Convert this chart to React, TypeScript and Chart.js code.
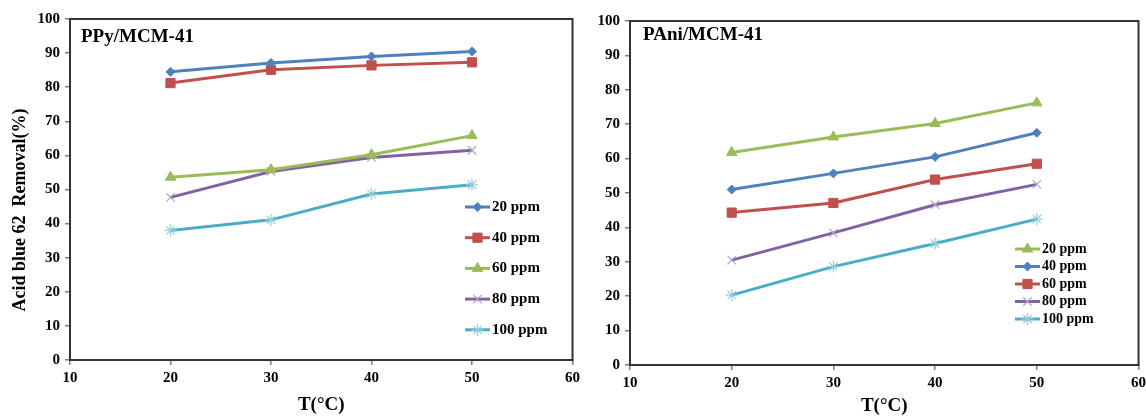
import React, { useEffect, useRef } from 'react';
import { Chart, registerables } from 'chart.js';
import { drawPoint } from 'chart.js/helpers';

Chart.register(...registerables);

// ---------- data ----------
const temperatures = [20, 30, 40, 50];
const xTickValues = [10, 20, 30, 40, 50, 60];
const yTickValues = [0, 10, 20, 30, 40, 50, 60, 70, 80, 90, 100];

const ppyLabels = ['20 ppm', '40 ppm', '60 ppm', '80 ppm', '100 ppm'];
const ppy20 = [84.5, 87.1, 89.0, 90.5];
const ppy40 = [81.2, 85.1, 86.4, 87.3];
const ppy60 = [53.6, 55.8, 60.2, 65.8];
const ppy80 = [47.7, 55.3, 59.4, 61.5];
const ppy100 = [38.0, 41.1, 48.7, 51.4];

const paniLabels = ['20 ppm', '40 ppm', '60 ppm', '80 ppm', '100 ppm'];
const pani20 = [61.8, 66.3, 70.2, 76.2];
const pani40 = [51.0, 55.7, 60.5, 67.5];
const pani60 = [44.3, 47.1, 53.9, 58.5];
const pani80 = [30.5, 38.4, 46.6, 52.5];
const pani100 = [20.3, 28.6, 35.3, 42.4];

// ---------- styles ----------
const FONT = "'Liberation Serif', 'Times New Roman', serif";

const sBlue = { color: '#4F81BD', pointStyle: 'rectRot', radius: 4.5, pbw: 1, fill: '#4F81BD', pointBorder: '#4F81BD' };
const sRed = { color: '#C0504D', pointStyle: 'rect', radius: 6.5, pbw: 1, fill: '#C0504D', pointBorder: '#C0504D' };
const sGreen = { color: '#9BBB59', pointStyle: 'triangle', radius: 6, pbw: 1, fill: '#9BBB59', pointBorder: '#9BBB59' };
const sPurple = { color: '#8064A2', pointStyle: 'crossRot', radius: 6, pbw: 1.2, fill: '#8064A2', pointBorder: '#B3A2C7' };
const sCyan = { color: '#4BACC6', pointStyle: 'star', radius: 6, pbw: 1.2, fill: '#4BACC6', pointBorder: '#93CDDD' };

function makeDataset(label: string, values: number[], st: any) {
  return {
    label,
    data: temperatures.map((t, i) => ({ x: t, y: values[i] })),
    borderColor: st.color,
    backgroundColor: st.fill,
    borderWidth: 3,
    pointStyle: st.pointStyle,
    pointRadius: st.radius,
    pointBackgroundColor: st.fill,
    pointBorderColor: st.pointBorder,
    pointBorderWidth: st.pbw,
    tension: 0,
    fill: false,
  };
}

function makePlugin(opts: any) {
  return {
    id: 'decor',
    afterDraw(chart: any) {
      const ctx = chart.ctx;
      const a = chart.chartArea;
      ctx.save();
      // frame
      ctx.strokeStyle = '#333333';
      ctx.lineWidth = 2;
      ctx.strokeRect(a.left, a.top, a.right - a.left, a.bottom - a.top);
      // inside title
      ctx.fillStyle = '#000';
      ctx.font = `bold 19px ${FONT}`;
      ctx.textAlign = 'left';
      ctx.textBaseline = 'middle';
      ctx.fillText(opts.title, opts.titleX, opts.titleY);
      // x title
      ctx.font = `bold 19px ${FONT}`;
      ctx.textAlign = 'center';
      ctx.fillText('T(°C)', (a.left + a.right) / 2, opts.xTitleY);
      // y title
      if (opts.yTitle) {
        ctx.save();
        ctx.translate(opts.yTitleX, opts.yTitleY);
        ctx.rotate(-Math.PI / 2);
        ctx.font = `bold 18px ${FONT}`;
        ctx.textAlign = 'center';
        ctx.fillText(opts.yTitle, 0, 0);
        ctx.restore();
      }
      // legend
      chart.data.datasets.forEach((ds: any, i: number) => {
        const y = opts.legY + i * opts.legStep;
        const x0 = opts.legX;
        const x1 = opts.legX + opts.legLen;
        ctx.strokeStyle = ds.borderColor;
        ctx.lineWidth = 3;
        ctx.beginPath();
        ctx.moveTo(x0, y);
        ctx.lineTo(x1, y);
        ctx.stroke();
        ctx.fillStyle = ds.pointBackgroundColor;
        ctx.strokeStyle = ds.pointBorderColor;
        ctx.lineWidth = ds.pointBorderWidth;
        drawPoint(ctx, { pointStyle: ds.pointStyle, radius: ds.pointRadius, borderWidth: ds.pointBorderWidth, rotation: 0 }, (x0 + x1) / 2, y);
        ctx.fillStyle = '#000';
        ctx.font = `bold ${opts.legFont}px ${FONT}`;
        ctx.textAlign = 'left';
        ctx.textBaseline = 'middle';
        ctx.fillText(ds.label, x1 + 2, y);
      });
      ctx.restore();
    },
  };
}

function makeConfig(datasets: any[], lay: any, plugOpts: any) {
  return {
    type: 'line',
    data: { datasets },
    options: {
      responsive: false,
      animation: false,
      layout: { padding: { top: lay.top, right: lay.right, left: 0, bottom: 0 } },
      plugins: { legend: { display: false }, tooltip: { enabled: false } },
      scales: {
        x: {
          type: 'linear',
          min: 10,
          max: 60,
          afterBuildTicks: (s: any) => { s.ticks = xTickValues.map((v) => ({ value: v })); },
          afterFit: (s: any) => { s.height = lay.xHeight; s.paddingLeft = 0; s.paddingRight = 0; },
          ticks: { color: '#000', font: { family: FONT, weight: 'bold', size: 15 }, padding: 4, maxRotation: 0 },
          grid: { drawOnChartArea: false, drawTicks: true, tickLength: 5, color: '#7f7f7f', lineWidth: 1.5 },
          border: { color: '#555', width: 2 },
        },
        y: {
          type: 'linear',
          min: 0,
          max: 100,
          afterBuildTicks: (s: any) => { s.ticks = yTickValues.map((v) => ({ value: v })); },
          afterFit: (s: any) => { s.width = lay.yWidth; s.paddingTop = 0; s.paddingBottom = 0; },
          ticks: { color: '#000', font: { family: FONT, weight: 'bold', size: 15 }, padding: 5 },
          grid: { drawOnChartArea: false, drawTicks: true, tickLength: 5, color: '#7f7f7f', lineWidth: 1.5 },
          border: { color: '#555', width: 2 },
        },
      },
    },
    plugins: [makePlugin(plugOpts)],
  };
}

function Panel({ width, height, config }: any) {
  const ref = useRef<HTMLCanvasElement | null>(null);
  useEffect(() => {
    if (!ref.current) return;
    const c = new Chart(ref.current, config());
    return () => c.destroy();
  }, []);
  return <canvas ref={ref} width={width} height={height} style={{ display: 'block', width, height }} />;
}

export default function App() {
  const leftConfig = () =>
    makeConfig(
      [
        makeDataset(ppyLabels[0], ppy20, sBlue),
        makeDataset(ppyLabels[1], ppy40, sRed),
        makeDataset(ppyLabels[2], ppy60, sGreen),
        makeDataset(ppyLabels[3], ppy80, sPurple),
        makeDataset(ppyLabels[4], ppy100, sCyan),
      ],
      { top: 19, right: 7, xHeight: 57, yWidth: 70 },
      {
        title: 'PPy/MCM-41', titleX: 81, titleY: 37, xTitleY: 405,
        yTitle: 'Acid blue 62  Removal(%)', yTitleX: 20, yTitleY: 210,
        legX: 465, legY: 207, legStep: 30.7, legLen: 25, legFont: 15,
      }
    );
  const rightConfig = () =>
    makeConfig(
      [
        makeDataset(paniLabels[0], pani20, sGreen),
        makeDataset(paniLabels[1], pani40, sBlue),
        makeDataset(paniLabels[2], pani60, sRed),
        makeDataset(paniLabels[3], pani80, sPurple),
        makeDataset(paniLabels[4], pani100, sCyan),
      ],
      { top: 21, right: 7, xHeight: 52, yWidth: 50 },
      {
        title: 'PAni/MCM-41', titleX: 63, titleY: 35, xTitleY: 406,
        yTitle: null, yTitleX: 0, yTitleY: 0,
        legX: 435, legY: 249, legStep: 17.5, legLen: 25, legFont: 14,
      }
    );
  return (
    <div style={{ position: 'fixed', left: 0, top: 0, width: 1146, height: 417, background: '#fff', display: 'flex' }}>
      <Panel width={580} height={417} config={leftConfig} />
      <Panel width={566} height={417} config={rightConfig} />
    </div>
  );
}
